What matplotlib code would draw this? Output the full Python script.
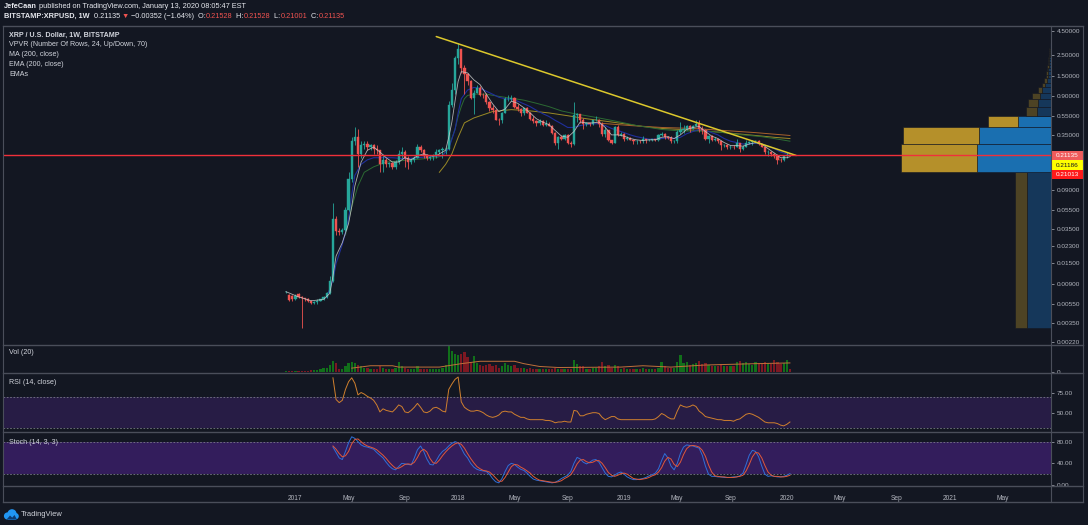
import numpy as np
import pandas as pd
import matplotlib
matplotlib.use("Agg")
import matplotlib.pyplot as plt
from matplotlib.lines import Line2D
from matplotlib.patches import Rectangle, Circle, Polygon
from matplotlib.ticker import NullLocator, NullFormatter

plt.rcParams['font.family'] = ['Liberation Sans', 'DejaVu Sans']

# ------------------------------------------------------------------ data
start_week = "2016-12-12"   # Monday of the first weekly bar (BITSTAMP:XRPUSD, 1W)

opens = [
0.0074,0.0069,0.0067,0.0062,0.0071,0.0066,0.0064,0.0062,0.0060,0.0057,
0.0058,0.0060,0.0062,0.0066,0.0072,0.0098,0.0450,0.0330,0.0320,0.0340,
0.0550,0.1200,0.3000,0.3300,0.2200,0.2700,0.2800,0.2600,0.2700,0.2500,
0.2400,0.1700,0.1900,0.1700,0.1750,0.1600,0.1800,0.2200,0.2300,0.2000,
0.1800,0.1900,0.2000,0.2600,0.2400,0.2100,0.2000,0.2050,0.2100,0.2300,
0.2400,0.2450,0.2500,0.7200,1.0500,2.3000,2.8500,1.8000,1.5500,1.3000,
0.8700,0.9800,1.1000,0.9300,0.9200,0.7800,0.6700,0.6400,0.5100,0.5000,
0.6000,0.8400,0.8500,0.8600,0.7000,0.6600,0.6000,0.6700,0.6000,0.5200,
0.4900,0.4700,0.4900,0.4500,0.4600,0.4400,0.3700,0.2900,0.3300,0.3200,
0.3500,0.2900,0.2800,0.5700,0.5800,0.5000,0.4600,0.4650,0.4550,0.5000,
0.5100,0.4600,0.3600,0.3900,0.3100,0.2900,0.4200,0.3500,0.3600,0.3200,
0.3250,0.3100,0.3000,0.3050,0.3000,0.3150,0.3100,0.3120,0.3180,0.3100,
0.3500,0.3550,0.3300,0.3250,0.3000,0.3020,0.3800,0.3900,0.4000,0.4400,
0.4000,0.4400,0.4600,0.4000,0.3950,0.3200,0.3400,0.3100,0.3200,0.3000,
0.2700,0.2720,0.2600,0.2620,0.2600,0.2900,0.2500,0.2600,0.2900,0.2930,
0.3000,0.3020,0.2800,0.2600,0.2300,0.2320,0.2200,0.2100,0.1900,0.1880,
0.2070,0.21528]

highs = [
0.0076,0.0070,0.0069,0.0070,0.0072,0.0068,0.0065,0.0064,0.0061,0.0060,
0.0062,0.0063,0.0068,0.0075,0.0110,0.0660,0.0480,0.0360,0.0360,0.0600,
0.1400,0.3300,0.4200,0.4000,0.3000,0.3000,0.3000,0.2800,0.2800,0.2700,
0.2400,0.2200,0.2000,0.1800,0.1800,0.1900,0.2400,0.2600,0.2400,0.2100,
0.2000,0.2100,0.2800,0.2700,0.2500,0.2200,0.2100,0.2200,0.2500,0.2500,
0.2600,0.2600,0.8000,1.2500,2.4500,3.3500,2.9000,1.9500,1.6000,1.3500,
1.0500,1.2000,1.1500,0.9800,0.9800,0.8000,0.7200,0.6600,0.5300,0.6200,
0.8800,0.9300,0.9200,0.8800,0.7400,0.6800,0.6800,0.7000,0.6100,0.5500,
0.5000,0.5200,0.5000,0.5000,0.4800,0.4500,0.3800,0.3400,0.3500,0.3600,
0.3600,0.3000,0.7800,0.6000,0.5900,0.5300,0.4800,0.4700,0.5100,0.5500,
0.5200,0.4800,0.4200,0.3900,0.3100,0.4300,0.4500,0.3800,0.3700,0.3400,
0.3300,0.3200,0.3100,0.3100,0.3400,0.3200,0.3200,0.3200,0.3200,0.3600,
0.3800,0.3700,0.3400,0.3400,0.3100,0.3900,0.4800,0.4500,0.4500,0.4500,
0.4500,0.5000,0.5000,0.4300,0.4000,0.3500,0.3500,0.3300,0.3200,0.3000,
0.2800,0.2800,0.2700,0.2700,0.3200,0.2900,0.2700,0.3100,0.3000,0.3100,
0.3100,0.3100,0.2800,0.2600,0.2400,0.2330,0.2250,0.2200,0.2000,0.2100,
0.2300,0.21528]

lows = [
0.0073,0.0060,0.0060,0.0061,0.0064,0.0031,0.0060,0.0058,0.0055,0.0055,
0.0056,0.0059,0.0061,0.0065,0.0070,0.0095,0.0300,0.0300,0.0310,0.0330,
0.0540,0.1100,0.2700,0.1600,0.2000,0.2500,0.2400,0.2400,0.2200,0.2200,
0.1400,0.1400,0.1600,0.1600,0.1500,0.1500,0.1700,0.2000,0.1600,0.1500,
0.1700,0.1800,0.2000,0.2300,0.2000,0.1900,0.1900,0.1900,0.2000,0.2200,
0.2000,0.2200,0.2400,0.7000,0.9500,2.0000,1.6000,0.9500,1.2000,0.8500,
0.5800,0.9800,0.9000,0.8700,0.7500,0.6300,0.6000,0.5000,0.4500,0.4700,
0.6000,0.8000,0.8000,0.6800,0.6300,0.5600,0.5700,0.6000,0.5000,0.4700,
0.4300,0.4500,0.4400,0.4400,0.4300,0.3600,0.2700,0.2500,0.3100,0.3100,
0.2800,0.2600,0.2700,0.4800,0.4700,0.4000,0.4300,0.4400,0.4500,0.4900,
0.4200,0.3400,0.3300,0.3000,0.2800,0.2900,0.3400,0.3400,0.3000,0.3100,
0.3100,0.2800,0.2800,0.2900,0.2900,0.2900,0.3000,0.3000,0.3000,0.3000,
0.3400,0.3200,0.3200,0.2900,0.2900,0.2900,0.3600,0.3700,0.3900,0.3800,
0.4000,0.4300,0.3800,0.3600,0.3100,0.2900,0.3000,0.3000,0.2900,0.2400,
0.2600,0.2500,0.2500,0.2500,0.2600,0.2300,0.2400,0.2600,0.2800,0.2700,
0.2900,0.2700,0.2600,0.2200,0.2100,0.2100,0.2000,0.1700,0.1800,0.1850,
0.2000,0.21001]

closes = [
0.0075,0.0061,0.0062,0.0068,0.0066,0.0064,0.0062,0.0060,0.0057,0.0058,
0.0060,0.0062,0.0066,0.0072,0.0098,0.0450,0.0330,0.0320,0.0340,0.0550,
0.1200,0.3000,0.3300,0.2200,0.2700,0.2800,0.2600,0.2700,0.2500,0.2400,
0.1700,0.1900,0.1700,0.1750,0.1600,0.1800,0.2200,0.2300,0.2000,0.1800,
0.1900,0.2000,0.2600,0.2400,0.2100,0.2000,0.2050,0.2100,0.2300,0.2400,
0.2450,0.2500,0.7200,1.0500,2.3000,2.8500,1.8000,1.5500,1.3000,0.8700,
0.9800,1.1000,0.9300,0.9200,0.7800,0.6700,0.6400,0.5100,0.5000,0.6000,
0.8400,0.8500,0.8600,0.7000,0.6600,0.6000,0.6700,0.6000,0.5200,0.4900,
0.4700,0.4900,0.4500,0.4600,0.4400,0.3700,0.2900,0.3300,0.3200,0.3500,
0.2900,0.2800,0.5700,0.5800,0.5000,0.4600,0.4650,0.4550,0.5000,0.5100,
0.4600,0.3600,0.3900,0.3100,0.2900,0.4200,0.3500,0.3600,0.3200,0.3250,
0.3100,0.3000,0.3050,0.3000,0.3150,0.3100,0.3120,0.3180,0.3100,0.3500,
0.3550,0.3300,0.3250,0.3000,0.3020,0.3800,0.3900,0.4000,0.4400,0.4000,
0.4400,0.4600,0.4000,0.3950,0.3200,0.3400,0.3100,0.3200,0.3000,0.2700,
0.2720,0.2600,0.2620,0.2600,0.2900,0.2500,0.2600,0.2900,0.2930,0.3000,
0.3020,0.2800,0.2600,0.2300,0.2320,0.2200,0.2100,0.1900,0.1880,0.2070,
0.2153,0.21135]

volumes = [
0.5,0.5,0.6,0.6,0.8,1.0,1.0,1.0,1.2,1.5,
2,3,3.5,4,6,10,8,3,3,5,
8,9,8,6,5,4,4,3,3,3,
5,4,3,3,3,4,9,5,4,3,
3,3,5,3,3,2.5,2.5,3,3,3,
4,6,25,20,17,16,17,19,14,9,
15,8,6,5,6,7,5,6,4,5,
8,6,5,6,4,4,4,3,4,3,
3,3,2.5,2.5,2.5,3,4,3,2.5,2.5,
3,3,11,7,5,5,3,3,4,4,
5,9,5,6,4,6,5,3,4,3,
3,3,3,3,4,3,3,3,3,4,
9,5,4,4,4,9,16,8,9,6,
7,8,10,7,8,6,5,5,5,7,
5,5,5,5,9,10,8,9,7,6,
9,8,7,9,8,7,11,9,7,8,
11,3]
vol_ma_week = [21,27,34,36,49,56,62,73,76,81,87,107,114,123,134,150,161]
vol_ma_val = [3.4,5.7,5.7,4.4,4.4,7.7,10,10,7.7,5,4,4.4,5.7,4.4,6.4,7.7,8.4]

# EMA lines (week index, price)
ema_w_x = [0,4,8,12,14,15,16,18,20,21,22,24,26,28,30,32,34,36,38,40,42,44,46,48,50,51,52,53,54,55,
           56,58,60,62,64,66,68,70,72,74,76,78,80,82,84,86,88,90,92,94,96,98,100,102,104,106,108,110,112,114,
           116,118,120,122,124,126,128,130,132,134,136,138,140,142,144,146,148,150,152,154,156,158,160,161]
ema_w_y = [0.0075,0.0066,0.0060,0.0062,0.0072,0.011,0.018,0.025,0.040,0.060,0.10,0.18,0.24,0.26,0.23,0.20,0.18,0.18,0.20,0.19,
           0.21,0.22,0.21,0.21,0.23,0.24,0.33,0.48,0.80,1.30,1.65,1.60,1.35,1.20,0.95,0.75,0.62,0.66,0.80,0.76,
           0.68,0.60,0.52,0.48,0.45,0.39,0.34,0.33,0.38,0.48,0.47,0.47,0.48,0.42,0.35,0.35,0.34,0.32,0.31,0.305,
           0.31,0.31,0.33,0.335,0.32,0.35,0.40,0.42,0.43,0.38,0.34,0.32,0.29,0.27,0.27,0.265,0.28,0.29,0.28,0.25,
           0.225,0.20,0.20,0.205]
ema_b_x = [13,15,16,18,19,20,21,22,24,26,28,30,34,38,42,46,50,52,54,55,56,58,60,62,64,66,68,70,72,74,
           76,78,80,82,84,86,88,90,92,94,96,98,100,102,104,106,108,110,112,114,116,118,120,122,124,126,128,130,132,134,
           136,138,140,142,144,146,148,150,152,154,156,158,160,161]
ema_b_y = [0.0065,0.010,0.015,0.024,0.032,0.045,0.08,0.13,0.17,0.19,0.20,0.20,0.20,0.195,0.20,0.205,0.21,0.25,0.40,0.60,
           0.85,1.05,1.12,1.10,1.02,0.95,0.88,0.85,0.84,0.80,0.75,0.70,0.64,0.59,0.55,0.50,0.46,0.42,0.42,0.44,
           0.45,0.46,0.46,0.44,0.41,0.39,0.37,0.35,0.335,0.325,0.315,0.315,0.32,0.325,0.32,0.33,0.36,0.38,0.40,0.39,
           0.37,0.35,0.32,0.30,0.29,0.28,0.28,0.285,0.28,0.265,0.25,0.23,0.22,0.218]
ema_g_x = [19,21,23,25,28,32,40,48,50,52,54,55,56,57,58,60,64,68,72,76,80,84,88,92,96,100,104,108,112,116,
           120,124,128,132,136,140,144,148,152,156,161]
ema_g_y = [0.03,0.06,0.10,0.14,0.16,0.18,0.19,0.20,0.21,0.26,0.40,0.55,0.70,0.85,0.92,0.95,0.95,0.90,0.86,0.82,
           0.76,0.70,0.63,0.59,0.56,0.53,0.50,0.47,0.44,0.42,0.40,0.39,0.385,0.385,0.38,0.37,0.355,0.345,0.335,0.32,0.30]
ema_o_x = [49,51,53,55,57,60,66,72,78,84,90,96,102,108,114,120,126,132,138,144,150,156,161]
ema_o_y = [0.14,0.17,0.22,0.33,0.47,0.53,0.62,0.65,0.63,0.60,0.56,0.52,0.49,0.46,0.43,0.41,0.40,0.39,0.375,0.36,0.345,0.33,0.32]
ema_r_x = [99,110,120,130,140,150,161]
ema_r_y = [0.47,0.44,0.42,0.41,0.39,0.37,0.345]

trend_dates = ["2017-11-13", "2020-01-27"]
trend_prices = [3.90, 0.2114]

# VPVR rows (24 rows, bottom to top), relative volume
vp_up = [16, 49.3, 48.2, 22.2, 9.3, 8.5, 7.3, 6.2, 4.0, 2.9, 2.3, 2.0, 1.7, 1.5, 1.3, 1.2, 1.1, 1.0, 0.9, 0.8, 0.7, 0.6, 0.5, 0.4]
vp_down = [8, 50.7, 50.3, 19.6, 7.1, 7.1, 5.5, 2.7, 2.2, 1.8, 1.3, 1.1, 1.0, 0.9, 0.8, 0.7, 0.6, 0.6, 0.5, 0.5, 0.4, 0.4, 0.3, 0.3]
vp_value_area_rows = [1, 2, 3]

rsi_start = 15
rsi = [
95,67,63,66,80,90,95,88,73,76,
74,71,69,66,60,51,55,53,52,51,
55,60,58,51,50,53,57,62,57,51,
50,52,56,57,55,52,51,80,87,93,
96,64,57,54,52,52,53,52,50,47,
45,44,45,47,51,52,51,51,48,46,
44,44,42,41,41,41,41,41,40,40,
39,37,38,38,39,38,38,53,52,46,
46,48,49,50,50,49,44,41,43,45,
45,42,41,41,41,41,41,41,41,41,
41,41,41,42,45,49,47,44,42,42,
52,60,58,57,58,60,58,52,49,45,
44,43,42,41,41,40,40,40,39,41,
42,45,48,49,48,46,44,41,38,37,
37,37,36,34,33,35,38]

stoch_start = 15
stoch_k = [
70,60,50,47,62,78,89,86,80,74,
71,70,68,66,60,55,50,42,35,30,
28,34,40,39,38,37,50,65,72,62,
48,38,37,45,55,62,66,72,77,80,
78,68,57,50,40,33,29,27,26,25,
20,12,6,4,12,25,36,40,38,33,
29,27,22,16,11,9,8,7,6,5,
4,5,8,12,15,18,25,40,51,48,
42,39,42,46,47,42,32,22,16,15,
18,22,24,20,15,12,10,10,11,12,
14,17,19,22,30,45,58,50,35,28,
40,58,70,74,73,72,70,68,55,35,
20,16,16,15,15,14,14,14,15,15,
17,22,38,55,64,62,52,35,20,16,
17,16,15,15,16,18,21]
stoch_d = [
72,66,58,52,54,62,76,84,85,80,
75,72,70,68,65,60,55,49,42,36,
31,31,34,38,39,38,42,51,62,66,
61,49,41,40,46,54,61,67,72,76,
78,75,68,58,49,41,34,30,27,26,
24,19,13,7,7,14,24,34,38,37,
33,30,26,22,16,12,9,8,7,6,
5,5,6,8,12,15,19,28,39,46,
47,43,41,42,45,45,40,32,23,18,
16,18,21,22,20,16,12,11,10,11,
12,14,17,19,24,32,44,51,48,38,
34,42,56,67,72,73,72,70,64,53,
37,24,17,16,15,15,14,14,14,15,
16,18,26,38,52,60,59,50,36,24,
18,16,16,15,15,16,18]

price_ticks = [4.5, 2.5, 1.5, 0.9, 0.55, 0.35, 0.09, 0.055, 0.035, 0.023, 0.015, 0.009, 0.0055, 0.0035, 0.0022]
price_boxes = [0.21135, 0.21186, 0.21013]
time_tick_dates = ["2017-01-02", "2017-05-01", "2017-09-04", "2018-01-01", "2018-05-07", "2018-09-03",
                   "2019-01-07", "2019-05-06", "2019-09-02", "2020-01-06", "2020-05-04", "2020-09-07",
                   "2021-01-04", "2021-05-03"]
time_tick_labels = ["2017", "May", "Sep", "2018", "May", "Sep", "2019", "May", "Sep", "2020",
                    "May", "Sep", "2021", "May"]

# ------------------------------------------------------------------ style
BG = '#131722'
SEP = '#4a4e5a'
LBL = '#b2b5be'
TXT = '#d1d4dc'
UP = '#26a69a'
DN = '#ef5350'
W, H = 1088, 525

o = np.array(opens); h = np.array(highs); l = np.array(lows); c = np.array(closes)
n = len(c)
x = np.arange(n)
up = c >= o
cols = np.where(up, UP, DN)

t0 = pd.Timestamp(start_week)
def wk(d):
    return (pd.Timestamp(d) - t0).days / 7.0

fig = plt.figure(figsize=(W / 100, H / 100), dpi=100)
fig.patch.set_facecolor(BG)

def box(x0, y0, x1, y1):
    return [x0 / W, 1 - y1 / H, (x1 - x0) / W, (y1 - y0) / H]

XL = ((3 - 286) / 3.13, (1051 - 286) / 3.13)

def style(a):
    a.set_facecolor(BG)
    for s in a.spines.values():
        s.set_visible(False)
    a.tick_params(axis='x', which='both', bottom=False, labelbottom=False)
    a.yaxis.tick_right()
    a.tick_params(axis='y', which='both', colors=LBL, labelcolor=LBL, labelsize=4.6,
                  length=2.5, width=0.5, pad=1.5)

ax = fig.add_axes(box(3, 26, 1051, 345))
axv = fig.add_axes(box(3, 345, 1051, 373), sharex=ax)
axr = fig.add_axes(box(3, 373, 1051, 432), sharex=ax)
axs = fig.add_axes(box(3, 432, 1051, 486), sharex=ax)
for a in (ax, axv, axr, axs):
    style(a)

# ---- main price panel
ax.set_yscale('log')
ax.set_xlim(*XL)
ax.set_ylim(0.00203, 5.05)
ax.yaxis.set_minor_locator(NullLocator())
ax.yaxis.set_minor_formatter(NullFormatter())
ax.set_yticks(price_ticks)
ax.set_yticklabels([f"{v:.5f}" for v in price_ticks])

ax.plot(ema_o_x, ema_o_y, color='#9a8a26', lw=0.7, zorder=2)
ax.plot(ema_r_x, ema_r_y, color='#a8612c', lw=0.7, zorder=2)
ax.plot(ema_g_x, ema_g_y, color='#2c6a33', lw=0.7, zorder=2)
ax.plot(ema_b_x, ema_b_y, color='#1f2f9c', lw=0.8, zorder=2)

ax.vlines(x, l, h, colors=cols, lw=0.6, zorder=3)
ax.bar(x, np.abs(c - o), bottom=np.minimum(o, c), width=0.72, color=cols,
       edgecolor=cols, lw=0.3, zorder=4)
ax.plot(ema_w_x, ema_w_y, color='#c9c9c9', lw=0.6, alpha=0.85, zorder=5)

ax.plot([wk(d) for d in trend_dates], trend_prices, color='#dcc82c', lw=1.1, zorder=6,
        solid_capstyle='round')

# ---- VPVR overlay
axp = fig.add_axes(box(3, 26, 1051, 345), sharey=ax)
axp.patch.set_visible(False)
axp.axis('off')
edges = np.linspace(min(lows), max(highs), len(vp_up) + 1)
tot = np.array(vp_up) + np.array(vp_down)
axp.set_xlim(tot.max() / (150 / 1048), 0)
for i in range(len(vp_up)):
    va = i in vp_value_area_rows
    cu = '#1a6fb0' if va else '#15375a'
    cd = '#b5902a' if va else '#4d4324'
    axp.barh(edges[i], vp_up[i], height=edges[i + 1] - edges[i], left=0, align='edge',
             color=cu, edgecolor=BG, lw=0.4)
    axp.barh(edges[i], vp_down[i], height=edges[i + 1] - edges[i], left=vp_up[i], align='edge',
             color=cd, edgecolor=BG, lw=0.4)
axp.axhline(closes[-1], color='#f0303a', lw=1.0, zorder=10)

# ---- volume
axv.set_ylim(-1.3, 25.7)
vcols = np.where(up, '#11701a', '#7d1822')
axv.bar(x, volumes, width=0.72, color=vcols, lw=0)
axv.plot(vol_ma_week, vol_ma_val, color='#c0703a', lw=0.7)
axv.set_yticks([0])
axv.set_yticklabels(['0'])

# ---- RSI
axr.set_ylim(25.1, 101.2)
axr.axhspan(30, 70, color='#271c45', lw=0)
axr.axhline(70, color='#787b86', lw=0.6, ls=(0, (2, 2)))
axr.axhline(30, color='#787b86', lw=0.6, ls=(0, (2, 2)))
axr.plot(np.arange(rsi_start, rsi_start + len(rsi)), rsi, color='#d0802e', lw=0.7)
axr.set_yticks([75, 50])
axr.set_yticklabels(['75.00', '50.00'])

# ---- Stoch
axs.set_ylim(-1.8, 97.8)
axs.axhspan(20, 80, color='#331d5c', lw=0)
axs.axhline(80, color='#787b86', lw=0.6, ls=(0, (2, 2)))
axs.axhline(20, color='#787b86', lw=0.6, ls=(0, (2, 2)))
sx = np.arange(stoch_start, stoch_start + len(stoch_k))
axs.plot(sx, stoch_k, color='#2f6fd8', lw=0.7)
axs.plot(sx, stoch_d, color='#e0583a', lw=0.7)
axs.set_yticks([80, 40, 0])
axs.set_yticklabels(['80.00', '40.00', '0.00'])
axs.set_xticks([wk(d) for d in time_tick_dates])
axs.set_xticklabels(time_tick_labels)
axs.tick_params(axis='x', bottom=False, labelbottom=True, labelsize=4.8, labelcolor=LBL, pad=3)
axs.set_xlim(*XL)

# ---- frame / separators
def fline(xs, ys, lw=1.0, color=SEP):
    fig.add_artist(Line2D([v / W for v in xs], [1 - v / H for v in ys], color=color, lw=lw,
                          transform=fig.transFigure))

for yy in (26, 345, 373, 432, 486, 502):
    fline([3, 1083], [yy, yy], lw=1.0)
for xx in (3, 1051, 1083):
    fline([xx, xx], [26, 502], lw=0.8)

# ---- price boxes on the right scale
fig.canvas.draw()
y0 = ax.transData.transform((0, price_boxes[0]))[1]
for k, (val, fc, tc) in enumerate(zip(price_boxes, ['#ef5b5b', '#ffff00', '#ff1a1a'],
                                      ['white', '#131722', 'white'])):
    yc = y0 - k * 9.6
    fig.add_artist(Rectangle((1052 / W, (yc - 4.6) / H), 31 / W, 9.2 / H, facecolor=fc,
                             edgecolor='none', transform=fig.transFigure))
    fig.text(1055.5 / W, yc / H, f"{val:.5f}", color=tc, fontsize=4.6, va='center', ha='left')

# ---- texts
renderer = fig.canvas.get_renderer()
def seq(px, py, parts, size=5.3):
    for s, kw in parts:
        t = fig.text(px / W, 1 - py / H, s, va='center', ha='left', fontsize=size, **kw)
        px += t.get_window_extent(renderer=renderer).width

WHITE = '#e6e8ee'
RED = '#ef5350'
seq(4, 6.7, [("JefeCaan", dict(color=WHITE, fontweight='bold')),
             (" published on TradingView.com, January 13, 2020 08:05:47 EST", dict(color=WHITE))])
seq(4, 16.5, [("BITSTAMP:XRPUSD, 1W", dict(color=WHITE, fontweight='bold')),
              ("  0.21135", dict(color=WHITE)),
              (" \u25bc", dict(color=RED)),
              (" \u22120.00352 (\u22121.64%)  O:", dict(color=WHITE)),
              ("0.21528", dict(color=RED)),
              ("  H:", dict(color=WHITE)),
              ("0.21528", dict(color=RED)),
              ("  L:", dict(color=WHITE)),
              ("0.21001", dict(color=RED)),
              ("  C:", dict(color=WHITE)),
              ("0.21135", dict(color=RED))])

legend_lines = ["XRP / U.S. Dollar, 1W, BITSTAMP", "VPVR (Number Of Rows, 24, Up/Down, 70)",
                "MA (200, close)", "EMA (200, close)", "EMAs"]
for k, s in enumerate(legend_lines):
    fig.text(9 / W, 1 - (35 + 10 * k) / H, s, color=TXT, fontsize=5.1, va='center', ha='left',
             fontweight='bold' if k == 0 else 'normal')
for s, yy in (("Vol (20)", 353), ("RSI (14, close)", 383), ("Stoch (14, 3, 3)", 443)):
    fig.text(9 / W, 1 - yy / H, s, color=TXT, fontsize=5.1, va='center', ha='left')

# ---- TradingView logo
axl = fig.add_axes(box(3, 508, 19, 521))
axl.set_xlim(0, 16); axl.set_ylim(0, 13); axl.axis('off')
for cx, cy, r in ((4.5, 5.0, 3.6), (9.0, 7.2, 4.6), (12.6, 4.8, 3.2)):
    axl.add_patch(Circle((cx, cy), r, color='#2196f3', lw=0))
axl.add_patch(Rectangle((4.5, 1.4), 8.1, 3.5, color='#2196f3', lw=0))
axl.add_patch(Polygon([(3.5, 1.4), (7.0, 5.5), (9.2, 3.4), (11.5, 6.0), (14.0, 1.4)],
                      closed=True, color='#0d3c73', lw=0))
fig.text(21 / W, 1 - 515 / H, "TradingView", color=TXT, fontsize=5.4, va='center', ha='left')

fig.savefig("out.png", dpi=100, facecolor=BG)
